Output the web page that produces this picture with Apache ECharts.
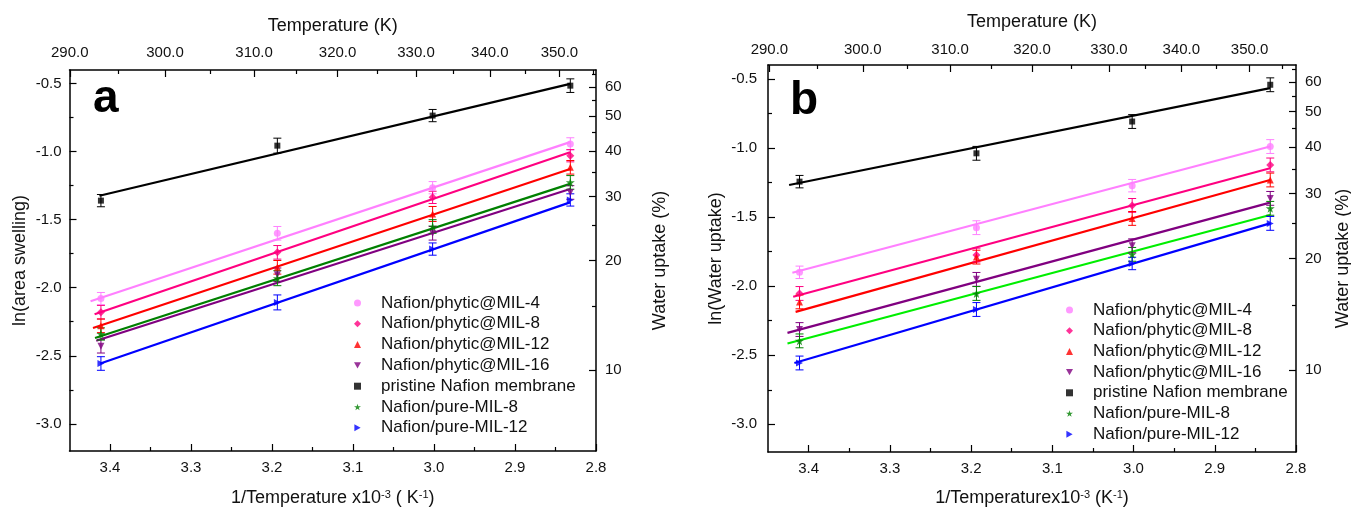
<!DOCTYPE html>
<html>
<head>
<meta charset="utf-8">
<script src="https://cdn.jsdelivr.net/npm/echarts@6/dist/echarts.min.js"></script>
<style>
  html, body { margin: 0; padding: 0; background: #fff; }
  #chart { width: 1351px; height: 510px; }
</style>
</head>
<body>
<div id="chart"></div>
<script>
// 1000/T (K^-1) of the four temperatures 293, 313, 333, 353 K
var invT = [3.4112, 3.1934, 3.0017, 2.8317];

var names = ['Nafion/phytic@MIL-4', 'Nafion/phytic@MIL-8', 'Nafion/phytic@MIL-12',
	'Nafion/phytic@MIL-16', 'pristine Nafion membrane', 'Nafion/pure-MIL-8', 'Nafion/pure-MIL-12'];

// tick labels
var invTicks = [2.8, 2.9, 3.0, 3.1, 3.2, 3.3, 3.4];
var invMinor = [2.85, 2.95, 3.05, 3.15, 3.25, 3.35];
var tempTicks = [290, 300, 310, 320, 330, 340, 350];
var tempMinor = [295, 305, 315, 325, 335, 345, 355];
var lnTicks = [-3.0, -2.5, -2.0, -1.5, -1.0, -0.5];
var lnMinor = [-2.75, -2.25, -1.75, -1.25, -0.75];
var upTicks = [10, 20, 30, 40, 50, 60];
var upMinor = [15, 25, 35, 45, 55, 65];

// panel a: ln(area swelling)
var aMil4 = [-2.08, -1.60, -1.265, -0.943];
var aMil8 = [-2.18, -1.74, -1.336, -1.03];
var aMil12 = [-2.28, -1.85, -1.458, -1.115];
var aMil16 = [-2.43, -1.905, -1.60, -1.30];
var aPristine = [-1.36, -0.956, -0.735, -0.515];
var aPure8 = [-2.34, -1.93, -1.55, -1.226];
var aPure12 = [-2.557, -2.108, -1.716, -1.355];
var aErr = [
	[0.045, 0.05, 0.045, 0.045],
	[0.05, 0.05, 0.045, 0.045],
	[0.05, 0.05, 0.055, 0.05],
	[0.05, 0.05, 0.05, 0.05],
	[0.045, 0.055, 0.045, 0.05],
	[0.045, 0.055, 0.05, 0.05],
	[0.05, 0.055, 0.045, 0.045]
];
// fitted lines: [x start, y start, x end, y end]
var aFit = [
	[3.424, -2.10, 2.832, -0.93],
	[3.419, -2.195, 2.832, -1.005],
	[3.421, -2.296, 2.832, -1.127],
	[3.417, -2.39, 2.832, -1.274],
	[3.413, -1.324, 2.832, -0.502],
	[3.4185, -2.37, 2.832, -1.237],
	[3.412, -2.557, 2.832, -1.373]
];

// panel b: ln(Water uptake)
var bMil4 = [-1.90, -1.577, -1.273, -0.99];
var bMil8 = [-2.053, -1.775, -1.416, -1.123];
var bMil12 = [-2.114, -1.79, -1.51, -1.232];
var bMil16 = [-2.314, -1.951, -1.708, -1.365];
var bPristine = [-1.244, -1.039, -0.809, -0.543];
var bPure8 = [-2.396, -2.053, -1.77, -1.437];
var bPure12 = [-2.556, -2.169, -1.836, -1.546];
var bErr = [
	[0.045, 0.05, 0.045, 0.05],
	[0.05, 0.05, 0.05, 0.05],
	[0.05, 0.05, 0.05, 0.05],
	[0.05, 0.05, 0.05, 0.05],
	[0.045, 0.05, 0.05, 0.05],
	[0.05, 0.05, 0.05, 0.05],
	[0.05, 0.05, 0.045, 0.05]
];
var bFit = [
	[3.420, -1.903, 2.832, -0.99],
	[3.419, -2.077, 2.832, -1.147],
	[3.416, -2.186, 2.832, -1.232],
	[3.426, -2.338, 2.832, -1.396],
	[3.424, -1.268, 2.832, -0.567],
	[3.426, -2.415, 2.832, -1.485],
	[3.4175, -2.556, 2.832, -1.546]
];

var colors = ['#ff80ff', '#ff0080', '#ff0000', '#800080', '#000000', '#008000', '#0000ff'];
var lineColorsB = ['#ff80ff', '#ff0080', '#ff0000', '#800080', '#000000', '#00ee00', '#0000ff'];
var starPath = 'path://M50,0 L61,35 L98,35 L68,57 L79,91 L50,70 L21,91 L32,57 L2,35 L39,35 Z';
var downTri = 'path://M0,0 L10,0 L5,9 Z';
var rightTri = 'path://M0,0 L9,5 L0,10 Z';
var symbols = ['circle', 'diamond', 'triangle', downTri, 'rect', starPath, rightTri];
var sizes = [7, 8, 7, 7, 6, 9, 7];

var font = 'Liberation Sans';
var txt = '#111';

function lnv(arr) {
	return arr.map(function (v) { return Math.log(v); });
}
function inv(arr) {
	return arr.map(function (v) { return 1000 / v; });
}

function xAx(g, pos, min, max, ticks, len, label, fmt, name, gap, rich, margin) {
	return {
		gridIndex: g, type: 'value', position: pos, min: min, max: max, inverse: true,
		axisLine: { show: label, onZero: false, lineStyle: { color: '#000', width: 1.5 } },
		axisTick: { show: true, inside: true, length: len, customValues: ticks, lineStyle: { color: '#000', width: 1.2 } },
		axisLabel: { show: label, customValues: ticks, formatter: fmt, margin: margin, color: txt, fontSize: 15, fontFamily: font },
		splitLine: { show: false },
		name: name, nameLocation: 'middle', nameGap: gap,
		nameTextStyle: { fontSize: 18, fontFamily: font, color: txt, rich: rich }
	};
}
function yAx(g, pos, min, max, ticks, len, label, fmt, name, gap, margin) {
	return {
		gridIndex: g, type: 'value', position: pos, min: min, max: max,
		axisLine: { show: label, onZero: false, lineStyle: { color: '#000', width: 1.5 } },
		axisTick: { show: true, inside: true, length: len, customValues: ticks, lineStyle: { color: '#000', width: 1.2 } },
		axisLabel: { show: label, customValues: ticks, formatter: fmt, margin: margin, color: txt, fontSize: 15, fontFamily: font },
		splitLine: { show: false },
		name: name, nameLocation: 'middle', nameGap: gap, nameRotate: 90,
		nameTextStyle: { fontSize: 18, fontFamily: font, color: txt }
	};
}

var fmt1 = function (v) { return v.toFixed(1); };
var fmtT = function (v) { return (1000 / v).toFixed(1); };
var fmtU = function (v) { return String(Math.round(Math.exp(v))); };
var supRich = {
	t: { fontSize: 18, fontFamily: font, color: txt },
	s: { fontSize: 11, fontFamily: font, color: txt, verticalAlign: 'top' }
};
var upMin = Math.log(6.0), upMax = Math.log(66.8);

var xAxis = [], yAxis = [];
// panel a  (x: 0 bottom, 1 bottom minor, 2 top, 3 top minor)
xAxis.push(xAx(0, 'bottom', 2.8, 3.45, invTicks, 7, true, fmt1, '{t|1/Temperature x10}{s|-3}{t| ( K}{s|-1}{t|)}', 38, supRich, 9));
xAxis.push(xAx(0, 'bottom', 2.8, 3.45, invMinor, 4, false, fmt1, '', 0, null, 9));
xAxis.push(xAx(0, 'top', 2.813, 3.4486, inv(tempTicks), 7, true, fmtT, 'Temperature (K)', 35, null, 10));
xAxis.push(xAx(0, 'top', 2.813, 3.4486, inv(tempMinor), 4, false, fmtT, '', 0, null, 10));
// panel b  (x: 4..7)
xAxis.push(xAx(1, 'bottom', 2.8, 3.45, invTicks, 7, true, fmt1, '{t|1/Temperaturex10}{s|-3}{t| (K}{s|-1}{t|)}', 37, supRich, 9));
xAxis.push(xAx(1, 'bottom', 2.8, 3.45, invMinor, 4, false, fmt1, '', 0, null, 9));
xAxis.push(xAx(1, 'top', 2.8, 3.45, inv(tempTicks), 7, true, fmtT, 'Temperature (K)', 34, null, 8));
xAxis.push(xAx(1, 'top', 2.8, 3.45, inv(tempMinor), 4, false, fmtT, '', 0, null, 8));

// panel a  (y: 0 left, 1 left minor, 2 right, 3 right minor)
yAxis.push(yAx(0, 'left', -3.2, -0.4, lnTicks, 7, true, fmt1, 'ln(area swelling)', 40, 8));
yAxis.push(yAx(0, 'left', -3.2, -0.4, lnMinor, 4, false, fmt1, '', 0, 8));
yAxis.push(yAx(0, 'right', upMin, upMax, lnv(upTicks), 7, true, fmtU, 'Water uptake (%)', 55, 9));
yAxis.push(yAx(0, 'right', upMin, upMax, lnv(upMinor), 4, false, fmtU, '', 0, 9));
// panel b  (y: 4..7)
yAxis.push(yAx(1, 'left', -3.2, -0.4, lnTicks, 7, true, fmt1, 'ln(Water uptake)', 43, 11));
yAxis.push(yAx(1, 'left', -3.2, -0.4, lnMinor, 4, false, fmt1, '', 0, 11));
yAxis.push(yAx(1, 'right', upMin, upMax, lnv(upTicks), 7, true, fmtU, 'Water uptake (%)', 38, 9));
yAxis.push(yAx(1, 'right', upMin, upMax, lnv(upMinor), 4, false, fmtU, '', 0, 9));

function errRender(color) {
	return function (params, api) {
		var x = api.value(0), y = api.value(1), e = api.value(2);
		var p1 = api.coord([x, y + e]), p2 = api.coord([x, y - e]);
		var w = 4;
		var st = { stroke: color, lineWidth: 1 };
		return {
			type: 'group',
			children: [
				{ type: 'line', shape: { x1: p1[0], y1: p1[1], x2: p2[0], y2: p2[1] }, style: st },
				{ type: 'line', shape: { x1: p1[0] - w, y1: p1[1], x2: p1[0] + w, y2: p1[1] }, style: st },
				{ type: 'line', shape: { x1: p2[0] - w, y1: p2[1], x2: p2[0] + w, y2: p2[1] }, style: st }
			]
		};
	};
}

var series = [];
function addPanel(xi, yi, vals, errs, fits, lineColors) {
	for (var i = 0; i < names.length; i++) {
		var f = fits[i];
		series.push({
			type: 'line', name: 'fit', xAxisIndex: xi, yAxisIndex: yi,
			data: [[f[0], f[1]], [f[2], f[3]]],
			showSymbol: false, silent: true, z: 2,
			lineStyle: { color: lineColors[i], width: 2.2 }
		});
		series.push({
			type: 'custom', name: 'err', xAxisIndex: xi, yAxisIndex: yi, silent: true, z: 3,
			data: invT.map(function (x, k) { return [x, vals[i][k], errs[i][k]]; }),
			renderItem: errRender(colors[i])
		});
		series.push({
			type: 'scatter', name: names[i], xAxisIndex: xi, yAxisIndex: yi, z: 4,
			symbol: symbols[i], symbolSize: sizes[i],
			itemStyle: { color: colors[i] },
			data: invT.map(function (x, k) { return [x, vals[i][k]]; })
		});
	}
}
addPanel(0, 0, [aMil4, aMil8, aMil12, aMil16, aPristine, aPure8, aPure12], aErr, aFit, colors);
addPanel(4, 4, [bMil4, bMil8, bMil12, bMil16, bPristine, bPure8, bPure12], bErr, bFit, lineColorsB);

function legendAt(left, top, gap) {
	return {
		data: names.map(function (n, i) {
			return { name: n, icon: symbols[i], itemStyle: { color: colors[i] } };
		}),
		orient: 'vertical', left: left, top: top,
		itemWidth: 7, itemHeight: 7, itemGap: gap, selectedMode: false,
		textStyle: { fontSize: 17, fontFamily: font, color: txt, lineHeight: 17, padding: [0, 0, 0, 15] }
	};
}

var chart = echarts.init(document.getElementById('chart'));
chart.setOption({
	backgroundColor: '#fff',
	animation: false,
	grid: [
		{ left: 69.5, top: 70, width: 526.5, height: 381, outerBoundsMode: 'none', containLabel: false },
		{ left: 768, top: 65, width: 528, height: 387, outerBoundsMode: 'none', containLabel: false }
	],
	xAxis: xAxis,
	yAxis: yAxis,
	legend: [legendAt(349, 289.5, 3.8), legendAt(1061, 296.5, 3.7)],
	graphic: [
		{ type: 'text', style: { x: 93, y: 99, text: 'a', font: 'bold 46px Liberation Sans', fill: '#000', verticalAlign: 'middle' } },
		{ type: 'text', style: { x: 790, y: 101, text: 'b', font: 'bold 46px Liberation Sans', fill: '#000', verticalAlign: 'middle' } }
	],
	series: series
});
</script>
</body>
</html>
